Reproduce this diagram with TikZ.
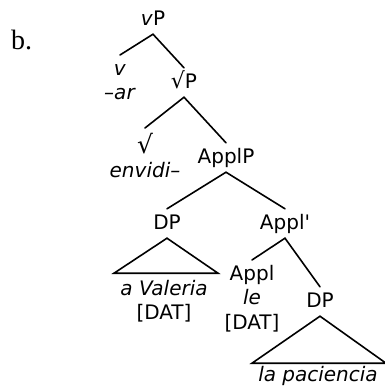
\documentclass[tikz,border=0pt]{standalone}
\usepackage{fontspec}
\setmainfont{DejaVu Sans}
\newfontfamily\exfont{Liberation Serif}
\newcommand{\firstline}{\rule{0pt}{15pt}}
\tikzset{
    cat/.style={font=\fontsize{20}{24.5}\selectfont, inner xsep=1pt, inner ysep=5pt, text height=15pt, text depth=4pt, anchor=base},
    leaf/.style={font=\fontsize{20}{24.5}\selectfont, inner xsep=1pt, inner ysep=5pt, align=center, anchor=north},
    branch/.style={line width=1.6pt, line cap=round, line join=miter},
}
\begin{document}
\begin{tikzpicture}[x=1pt, y=-1pt]
\useasboundingbox (0,0) rectangle (385,392);

% example number
\node[font=\exfont\fontsize{28}{30}\selectfont, anchor=base west, inner sep=0pt] (ex) at (11,49) {b.};

% 1. vP and the root phrase
\node[cat] (vP) at (153,25) {\textit{v}P};
\node[leaf] (vhead) at (120,55) {\firstline\textit{v}\\\textit{–ar}};
\node[cat] (rootP) at (184,88) {{\fontsize{22}{22}\selectfont √}P};
\node[leaf] (root) at (145,128) {\firstline{\fontsize{25}{25}\selectfont √}\\\textit{envidi–}};

% 2. ApplP
\node[cat] (applP) at (226,163) {ApplP};
\node[cat] (dpDat) at (167,229) {DP};
\node[cat] (applBar) at (285,229) {Appl\textquotesingle};
\node[leaf] (applHead) at (252,260) {\firstline Appl\\\textit{le}\\{}[DAT]};
\node[cat] (dpObj) at (320,307) {DP};

% branches
\draw[branch] (vhead.north) -- (vP.south) -- (rootP.north);
\draw[branch] (root.north) -- (rootP.south) -- (applP.north);
\draw[branch] (dpDat.north) -- (applP.south) -- (applBar.north);
\draw[branch] (applHead.north) -- (applBar.south) -- (dpObj.north);

% 3. triangles over the two DPs
\draw[branch] (dpDat.south) -- ++(-53,35) -- ++(104,0) -- cycle;
\node[leaf] (valeria) at (164,275) {\firstline\textit{a Valeria}\\{}[DAT]};

\draw[branch] (dpObj.south) -- ++(-68,47) -- ++(134,0) -- cycle;
\node[cat] (paciencia) at (318,381) {\textit{la paciencia}};

\end{tikzpicture}
\end{document}
